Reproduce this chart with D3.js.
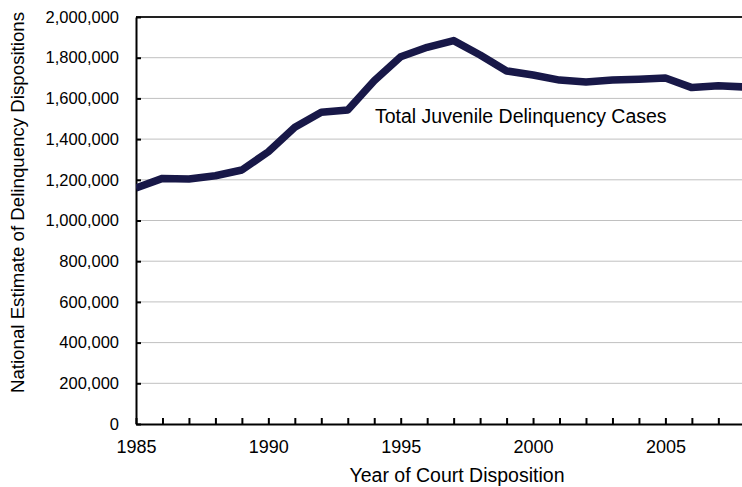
<!DOCTYPE html>
<html><head><meta charset="utf-8">
<script src="https://cdn.jsdelivr.net/npm/d3@7"></script>
<style>body{margin:0;background:#fff}svg{display:block}text{font-family:"Liberation Sans",Arial,sans-serif;fill:#000}</style>
</head><body><svg id="c" width="742" height="487"></svg>
<script>
const years = [1985,1986,1987,1988,1989,1990,1991,1992,1993,1994,1995,1996,1997,1998,1999,2000,2001,2002,2003,2004,2005,2006,2007,2008];
const cases = [1160000,1207000,1204000,1220000,1248000,1338000,1458000,1532000,1543000,1687000,1805000,1851000,1884000,1813000,1735000,1715000,1690000,1681000,1690000,1694000,1700000,1653000,1662000,1656000];
const yTicks = [0,200000,400000,600000,800000,1000000,1200000,1400000,1600000,1800000,2000000];
const xLabels = [1985,1990,1995,2000,2005];
const seriesLabel = "Total Juvenile Delinquency Cases";

const svg = d3.select("#c");
const L = 136, R = 742, T = 17, B = 424;
const x = d3.scaleLinear().domain([1985, 2008]).range([L, L + 23*26.47]);
const y = d3.scaleLinear().domain([0, 2000000]).range([B, T]);
const fmt = d3.format(",");

// gridlines
svg.append("g").selectAll("line").data(yTicks.filter(d=>d>0)).join("line")
  .attr("x1", L).attr("x2", R).attr("y1", d=>y(d)).attr("y2", d=>y(d))
  .attr("stroke", "#c0c0c0").attr("stroke-width", 1);

// top border
svg.append("line").attr("x1", L).attr("x2", R).attr("y1", T).attr("y2", T)
  .attr("stroke", "#222").attr("stroke-width", 2);

// y axis
const ya = svg.append("g").attr("transform", `translate(${L},0)`)
  .call(d3.axisLeft(y).tickValues(yTicks).tickFormat(fmt).tickSizeInner(-5).tickSizeOuter(0).tickPadding(17));
ya.select(".domain").attr("stroke", "#000").attr("stroke-width", 2);
ya.selectAll(".tick line").attr("stroke", "#000").attr("stroke-width", 2);
ya.selectAll("text").style("font-size", "16.5px").attr("fill", "#000");

// x axis
const xa = svg.append("g").attr("transform", `translate(0,${B})`)
  .call(d3.axisBottom(x).tickValues(years).tickFormat(d => xLabels.includes(d) ? d : "").tickSizeInner(-6).tickSizeOuter(0).tickPadding(16));
xa.select(".domain").attr("stroke", "#000").attr("stroke-width", 2);
xa.selectAll(".tick line").attr("stroke", "#000").attr("stroke-width", 2);
xa.selectAll("text").style("font-size", "18px").attr("fill", "#000");

// line
const line = d3.line().x((d,i)=>x(years[i])).y(d=>y(d));
svg.append("clipPath").attr("id","clip").append("rect").attr("x", L).attr("y", 0).attr("width", R-L).attr("height", B);
svg.append("path").datum(cases).attr("d", line).attr("fill", "none")
  .attr("stroke", "#181848").attr("stroke-width", 7.5).attr("stroke-linejoin", "round")
  .attr("clip-path", "url(#clip)");

// series label
svg.append("text").attr("x", 375).attr("y", 123).style("font-size", "19.5px").text(seriesLabel);

// axis titles
svg.append("text").attr("x", 457).attr("y", 482).attr("text-anchor", "middle").style("font-size", "19.5px").text("Year of Court Disposition");
svg.append("text").attr("transform", "translate(24,202.5) rotate(-90)").attr("text-anchor", "middle").style("font-size", "18.7px").text("National Estimate of Delinquency Dispositions");
</script></body></html>
